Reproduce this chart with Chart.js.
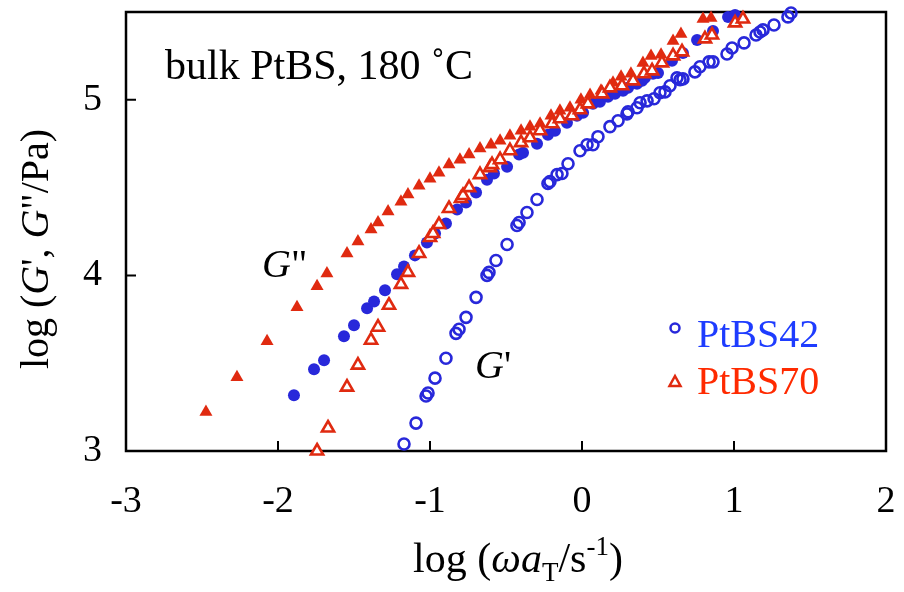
<!DOCTYPE html>
<html>
<head>
<meta charset="utf-8">
<script src="https://cdn.jsdelivr.net/npm/chart.js@4.4.1/dist/chart.umd.min.js"></script>
<style>
  html, body { margin: 0; padding: 0; background: #fff; }
</style>
</head>
<body>
<canvas id="modulusChart" width="904" height="592"></canvas>
<script>
// axis ticks
const xTicks = [-3, -2, -1, 0, 1, 2];
const yTicks = [3, 4, 5];

// [log(w aT), log G]
const gPrime42 = [[-1.171,3.04],[-1.092,3.159],[-1.026,3.313],[-1.013,3.33],[-0.967,3.415],[-0.895,3.528],[-0.829,3.67],[-0.809,3.693],[-0.763,3.761],[-0.697,3.875],[-0.625,4.0],[-0.612,4.017],[-0.566,4.085],[-0.493,4.176],[-0.428,4.284],[-0.414,4.301],[-0.362,4.358],[-0.296,4.432],[-0.224,4.523],[-0.211,4.534],[-0.164,4.574],[-0.132,4.58],[-0.092,4.636],[-0.013,4.71],[0.033,4.744],[0.072,4.744],[0.105,4.79],[0.184,4.847],[0.237,4.881],[0.296,4.92],[0.303,4.932],[0.362,4.955],[0.382,4.983],[0.428,4.994],[0.474,5.006],[0.513,5.04],[0.546,5.045],[0.579,5.08],[0.625,5.125],[0.645,5.114],[0.664,5.119],[0.743,5.159],[0.776,5.188],[0.836,5.216],[0.862,5.216],[0.954,5.261],[0.987,5.295],[1.066,5.324],[1.145,5.369],[1.171,5.386],[1.191,5.398],[1.263,5.426],[1.355,5.472],[1.375,5.494]];
const gDouble42 = [[-1.895,3.318],[-1.763,3.466],[-1.697,3.517],[-1.566,3.653],[-1.5,3.716],[-1.414,3.813],[-1.368,3.852],[-1.296,3.915],[-1.217,4.006],[-1.171,4.051],[-1.099,4.114],[-1.02,4.188],[-0.967,4.239],[-0.895,4.295],[-0.822,4.375],[-0.763,4.415],[-0.697,4.472],[-0.625,4.545],[-0.579,4.58],[-0.493,4.619],[-0.414,4.688],[-0.388,4.699],[-0.296,4.75],[-0.224,4.801],[-0.178,4.824],[-0.099,4.869],[-0.033,4.909],[0.007,4.926],[0.072,4.977],[0.118,4.989],[0.171,5.017],[0.217,5.034],[0.27,5.051],[0.303,5.068],[0.336,5.097],[0.362,5.091],[0.395,5.108],[0.414,5.125],[0.467,5.148],[0.5,5.153],[0.592,5.222],[0.664,5.267],[0.757,5.341],[0.862,5.392],[0.961,5.472],[1.007,5.483]];
const gPrime70 = [[-1.743,3.0],[-1.671,3.131],[-1.546,3.364],[-1.474,3.489],[-1.388,3.631],[-1.342,3.705],[-1.27,3.83],[-1.191,3.949],[-1.145,4.017],[-1.072,4.125],[-1.0,4.216],[-0.98,4.239],[-0.941,4.29],[-0.875,4.381],[-0.796,4.438],[-0.783,4.455],[-0.743,4.5],[-0.671,4.574],[-0.605,4.614],[-0.592,4.631],[-0.539,4.659],[-0.474,4.71],[-0.401,4.756],[-0.342,4.784],[-0.276,4.824],[-0.197,4.864],[-0.145,4.892],[-0.066,4.909],[-0.013,4.943],[0.039,4.977],[0.132,5.034],[0.184,5.068],[0.263,5.08],[0.336,5.108],[0.408,5.148],[0.461,5.165],[0.526,5.21],[0.599,5.25],[0.658,5.273],[0.809,5.347],[0.855,5.369],[1.007,5.438],[1.059,5.46]];
const gDouble70 = [[-2.474,3.222],[-2.27,3.42],[-2.072,3.625],[-1.875,3.818],[-1.743,3.938],[-1.678,4.011],[-1.546,4.125],[-1.474,4.193],[-1.388,4.261],[-1.342,4.301],[-1.276,4.364],[-1.191,4.42],[-1.145,4.46],[-1.072,4.511],[-1.0,4.551],[-0.941,4.585],[-0.875,4.631],[-0.803,4.659],[-0.743,4.688],[-0.671,4.722],[-0.599,4.744],[-0.539,4.767],[-0.474,4.795],[-0.401,4.824],[-0.342,4.847],[-0.276,4.864],[-0.204,4.909],[-0.145,4.938],[-0.079,4.955],[-0.007,5.0],[0.053,5.028],[0.125,5.051],[0.204,5.097],[0.257,5.131],[0.322,5.148],[0.401,5.21],[0.454,5.25],[0.52,5.256],[0.599,5.335],[0.651,5.375],[0.796,5.46],[0.849,5.466]];

const ink = '#000';
const serif = "'Liberation Serif', 'Times New Roman', serif";
const blue = '#2828da';
const red = '#e02a10';

function toPoints(pairs) {
    return pairs.map(p => ({ x: p[0], y: p[1] }));
}

// draws a row of text pieces with different fonts
function drawRuns(ctx, runs, x, y, align) {
    let total = 0;
    runs.forEach(r => { ctx.font = r.font; r.w = ctx.measureText(r.t).width; total += r.w; });
    let cx = align === 'center' ? x - total / 2 : x;
    runs.forEach(r => {
        ctx.font = r.font;
        ctx.fillText(r.t, cx, y + (r.dy || 0));
        cx += r.w;
    });
}

// frame + inward tick marks
const framePlugin = {
    id: 'frame',
    beforeDatasetsDraw(chart) {
        const { ctx, chartArea: a, scales: { x, y } } = chart;
        ctx.save();
        ctx.strokeStyle = ink;
        ctx.lineWidth = 2.5;
        ctx.strokeRect(a.left, a.top, a.right - a.left, a.bottom - a.top);
        ctx.lineWidth = 2;
        ctx.beginPath();
        xTicks.forEach(v => {
            const px = x.getPixelForValue(v);
            ctx.moveTo(px, a.bottom);
            ctx.lineTo(px, a.bottom - 10);
        });
        yTicks.forEach(v => {
            const py = y.getPixelForValue(v);
            ctx.moveTo(a.left, py);
            ctx.lineTo(a.left + 10, py);
        });
        ctx.stroke();
        ctx.restore();
    }
};

// titles, labels and the little legend
const textPlugin = {
    id: 'texts',
    afterDraw(chart) {
        const ctx = chart.ctx;
        const up = '40px ' + serif;
        const big = '42px ' + serif;
        const bigIt = 'italic 42px ' + serif;
        const it = 'italic 40px ' + serif;
        const small = '27px ' + serif;
        ctx.save();
        ctx.fillStyle = ink;
        ctx.textBaseline = 'alphabetic';
        ctx.textAlign = 'left';

        drawRuns(ctx, [
            { t: 'log (', font: big }, { t: 'ω', font: bigIt }, { t: 'a', font: bigIt },
            { t: 'T', font: small, dy: 9 }, { t: '/s', font: big },
            { t: '-1', font: small, dy: -17 }, { t: ')', font: big }
        ], 518, 572, 'center');

        ctx.save();
        ctx.translate(48, 249);
        ctx.rotate(-Math.PI / 2);
        drawRuns(ctx, [
            { t: 'log (', font: up }, { t: 'G', font: it }, { t: "', ", font: up },
            { t: 'G', font: it }, { t: '"/Pa)', font: up }
        ], 0, 0, 'center');
        ctx.restore();

        drawRuns(ctx, [{ t: 'bulk PtBS, 180 ˚C', font: big }], 165, 79, 'left');
        drawRuns(ctx, [{ t: 'G', font: it }, { t: '"', font: up }], 262, 277, 'left');
        drawRuns(ctx, [{ t: 'G', font: it }, { t: "'", font: up }], 475, 378, 'left');

        // legend markers
        ctx.lineWidth = 2.5;
        ctx.strokeStyle = blue;
        ctx.beginPath();
        ctx.arc(675, 328, 4.5, 0, Math.PI * 2);
        ctx.stroke();
        ctx.strokeStyle = red;
        ctx.fillStyle = '#fff';
        ctx.beginPath();
        ctx.moveTo(675, 376);
        ctx.lineTo(680.5, 386);
        ctx.lineTo(669.5, 386);
        ctx.closePath();
        ctx.fill();
        ctx.stroke();

        ctx.fillStyle = '#1e3cff';
        drawRuns(ctx, [{ t: 'PtBS42', font: up }], 697, 347, 'left');
        ctx.fillStyle = '#ff2a00';
        drawRuns(ctx, [{ t: 'PtBS70', font: up }], 697, 394, 'left');
        ctx.restore();
    }
};

new Chart(document.getElementById('modulusChart').getContext('2d'), {
    type: 'scatter',
    data: {
        datasets: [
            {
                label: "PtBS42 G'",
                data: toPoints(gPrime42),
                pointStyle: 'circle',
                pointRadius: 5.5,
                borderWidth: 2.6,
                borderColor: blue,
                backgroundColor: 'rgba(0,0,0,0)',
                clip: false,
                order: 4
            },
            {
                label: 'PtBS42 G"',
                data: toPoints(gDouble42),
                pointStyle: 'circle',
                pointRadius: 6,
                borderWidth: 0,
                borderColor: blue,
                backgroundColor: blue,
                clip: false,
                order: 3
            },
            {
                label: 'PtBS70 G"',
                data: toPoints(gDouble70),
                pointStyle: 'triangle',
                pointRadius: 7.5,
                borderWidth: 0,
                borderColor: red,
                backgroundColor: red,
                clip: false,
                order: 2
            },
            {
                label: "PtBS70 G'",
                data: toPoints(gPrime70),
                pointStyle: 'triangle',
                pointRadius: 7,
                borderWidth: 2.6,
                borderColor: red,
                backgroundColor: '#fff',
                clip: false,
                order: 1
            }
        ]
    },
    options: {
        responsive: false,
        animation: false,
        devicePixelRatio: 1,
        layout: { padding: { left: 0, right: 18, top: 12, bottom: 0 } },
        plugins: { legend: { display: false }, tooltip: { enabled: false } },
        scales: {
            x: {
                type: 'linear',
                min: -3, max: 2,
                afterBuildTicks: s => { s.ticks = xTicks.map(v => ({ value: v })); },
                afterFit: s => { s.height = 141; s.paddingLeft = 0; s.paddingRight = 0; },
                grid: { display: false },
                border: { display: false },
                ticks: { color: ink, font: { family: serif, size: 38 }, padding: 20, maxRotation: 0, autoSkip: false, callback: v => String(v) }
            },
            y: {
                type: 'linear',
                min: 3, max: 5.5,
                afterBuildTicks: s => { s.ticks = yTicks.map(v => ({ value: v })); },
                afterFit: s => { s.width = 126; s.paddingTop = 0; s.paddingBottom = 0; },
                grid: { display: false },
                border: { display: false },
                ticks: { color: ink, font: { family: serif, size: 38 }, padding: 16, autoSkip: false, callback: v => String(v) }
            }
        }
    },
    plugins: [framePlugin, textPlugin]
});
</script>
</body>
</html>
